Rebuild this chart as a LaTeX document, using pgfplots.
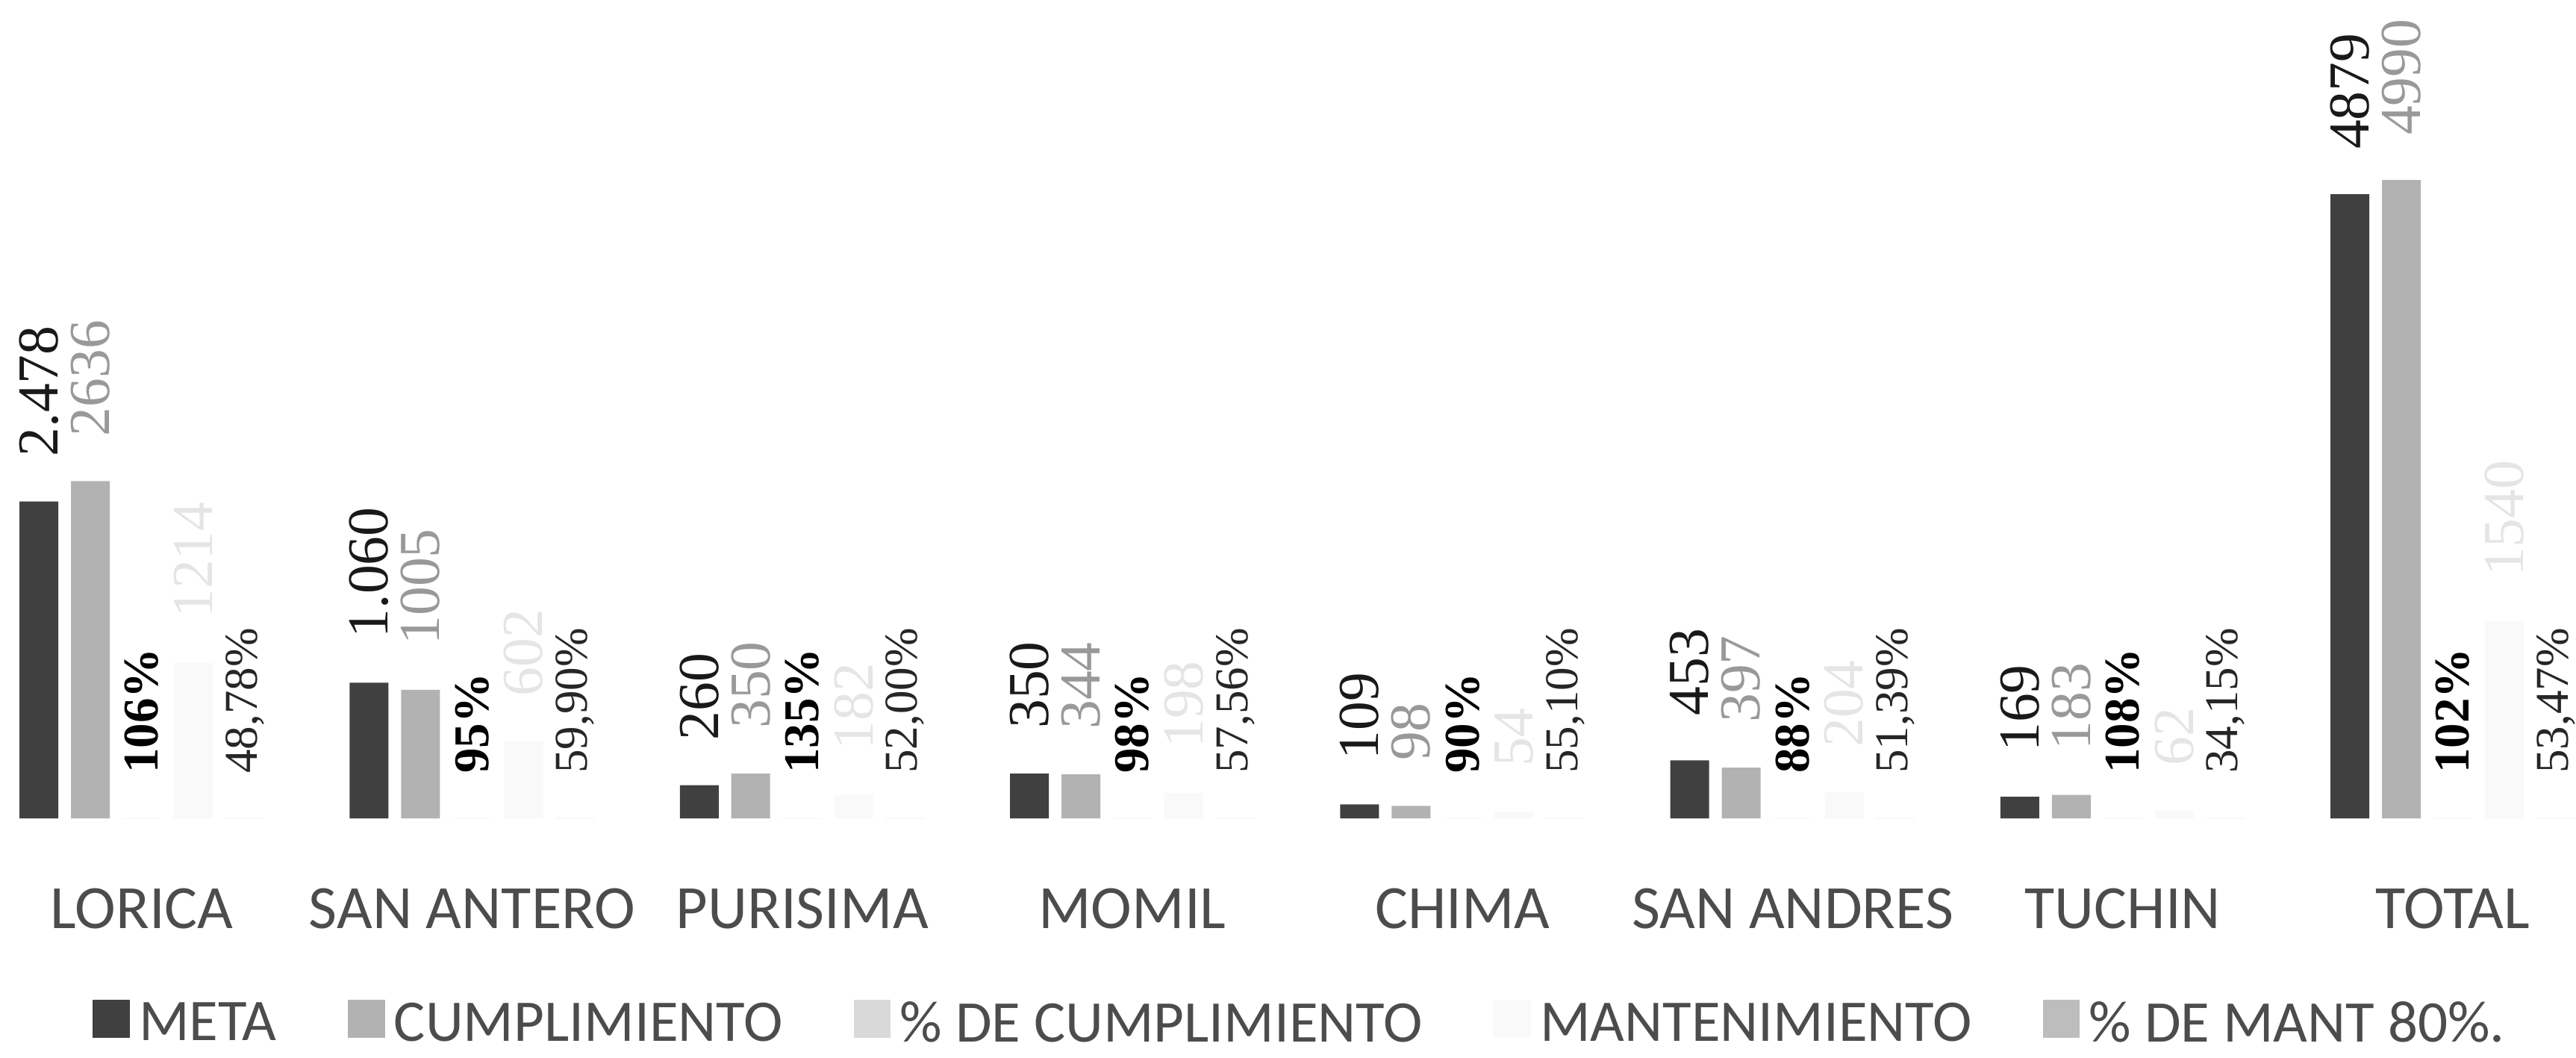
\documentclass[border=0pt]{standalone}
\usepackage{fontspec}
\setmainfont{Carlito}
\newfontfamily\lserif{Liberation Serif}
\usepackage{pgfplots}
\usepackage{pgfplotstable}
\pgfplotsset{compat=1.18}
\definecolor{cmeta}{gray}{0.25}
\definecolor{ccum}{gray}{0.7}
\definecolor{cpc}{gray}{0.85}
\definecolor{cman}{gray}{0.975}
\definecolor{cpm}{gray}{0.74}
\pgfplotsset{sqleg/.style={legend image code/.code={\fill[##1] (0cm,-0.13cm) rectangle (0.36cm,0.24cm);}}}

\pgfplotstableread{
x meta metal cum cuml pc pcl man manl pm pml
0 2478 2.478 2636 2636 1.06 106 1214 1214 0.4878 48,78
1 1060 1.060 1005 1005 0.95 95 602 602 0.5990 59,90
2 260 260 350 350 1.35 135 182 182 0.5200 52,00
3 350 350 344 344 0.98 98 198 198 0.5756 57,56
4 109 109 98 98 0.90 90 54 54 0.5510 55,10
5 453 453 397 397 0.88 88 204 204 0.5139 51,39
6 169 169 183 183 1.08 108 62 62 0.3415 34,15
7 4879 4879 4990 4990 1.02 102 1540 1540 0.5347 53,47
}\datatable

\begin{document}
\begin{tikzpicture}
\begin{axis}[
  scale only axis, width=25cm, height=7.94cm,
  xmin=-0.43, xmax=7.373, ymin=0, ymax=6398,
  clip=false,
  axis x line=bottom, axis y line=none,
  axis line style={draw=none},
  xtick={0,...,7},
  xticklabels={LORICA, SAN ANTERO, PURISIMA, MOMIL, CHIMA, SAN ANDRES, TUCHIN, TOTAL},
  xtick style={draw=none},
  xticklabel style={font=\fontsize{17}{20}\selectfont, anchor=base, yshift=-0.92cm, text=black!70},
  ybar=0.123cm, bar width=0.3767cm,
  legend columns=5,
  legend style={draw=none, at={(axis description cs:0.506,0)}, anchor=center, yshift=-2.0cm,
    font=\fontsize{16.3}{19}\selectfont, text=black!70,
    nodes={inner xsep=0.09cm},
    /tikz/every even column/.append style={column sep=0.6cm}},
  nodes near coords, point meta=explicit symbolic,
  every node near coord/.append style={yshift=0.43cm, rotate=90, anchor=west, inner sep=0pt},
]
\addplot[fill=cmeta, draw=none, sqleg,
  nodes near coords style={font=\lserif\fontsize{16}{16}\selectfont, text=black!90}]
  table[x=x, y=meta, meta=metal] {\datatable};
\addplot[fill=ccum, draw=none, sqleg,
  nodes near coords style={font=\lserif\fontsize{16}{16}\selectfont, text=black!40}]
  table[x=x, y=cum, meta=cuml] {\datatable};
\addplot[fill=cpc, draw=none, sqleg, nodes near coords={\pgfplotspointmeta\%},
  nodes near coords style={font=\lserif\bfseries\fontsize{13.8}{14}\selectfont, text=black}]
  table[x=x, y=pc, meta=pcl] {\datatable};
\addplot[fill=cman, draw=none, sqleg,
  nodes near coords style={font=\lserif\fontsize{16}{16}\selectfont, text=black!10}]
  table[x=x, y=man, meta=manl] {\datatable};
\addplot[fill=cpm, draw=none, sqleg, nodes near coords={\pgfplotspointmeta\%},
  nodes near coords style={font=\lserif\fontsize{13}{13}\selectfont, text=black!85}]
  table[x=x, y=pm, meta=pml] {\datatable};
\legend{META, CUMPLIMIENTO, \% DE CUMPLIMIENTO, MANTENIMIENTO, \% DE MANT 80\%.}
\end{axis}
\pgfresetboundingbox
\path[use as bounding box] (0,-2.318cm) rectangle (25cm,7.94cm);
\end{tikzpicture}
\end{document}
